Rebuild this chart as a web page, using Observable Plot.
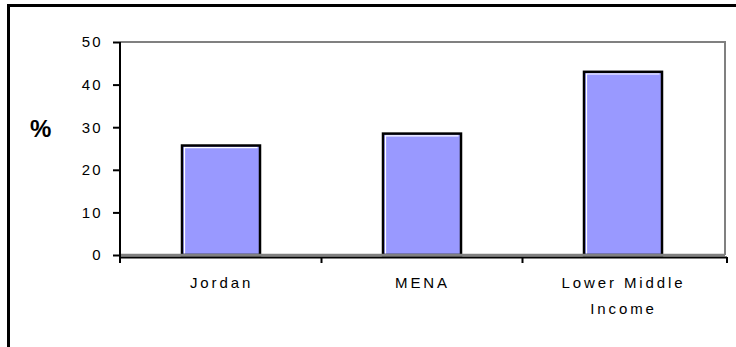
<!DOCTYPE html>
<html>
<head>
<meta charset="utf-8">
<script src="https://cdn.jsdelivr.net/npm/d3@7"></script>
<script src="https://cdn.jsdelivr.net/npm/@observablehq/plot@0.6"></script>
<style>
  html, body { margin: 0; padding: 0; background: #fff; }
  #wrap { position: relative; width: 736px; height: 347px; overflow: hidden; font-family: "Liberation Sans", Arial, sans-serif; }
  #frame { position: absolute; left: 7px; top: 4px; width: 800px; height: 400px; border-left: 3px solid #000; border-top: 3px solid #000; box-sizing: border-box; }
  #chart { position: absolute; left: 0; top: 0; }
  #pct { position: absolute; left: 30px; top: 117px; font-size: 24px; font-weight: bold; color: #000; line-height: 1; }
  g[aria-label="x-axis tick label"] text { letter-spacing: 2.9px; }
  g[aria-label="y-axis tick label"] text { letter-spacing: 2px; }
</style>
</head>
<body>
<div id="wrap">
  <div id="frame"></div>
  <div id="chart"></div>
  <div id="pct">%</div>
</div>
<script>
const categories = ["Jordan", "MENA", "Lower Middle Income"];
const tickLabels = ["Jordan", "MENA", "Lower Middle\nIncome"];
const values = [25.7, 28.5, 43.0];
const yTicks = [0, 10, 20, 30, 40, 50];

const data = categories.map((c, i) => ({name: c, value: values[i]}));
const labelOf = new Map(categories.map((c, i) => [c, tickLabels[i]]));

function decor(index, scales, vals, dims) {
  const {width, height, marginLeft, marginRight, marginTop, marginBottom} = dims;
  const l = marginLeft, r = width - marginRight, t = marginTop, b = height - marginBottom;
  const x = scales.x;
  const bw = x.bandwidth ? x.bandwidth() : 0;
  const g = d3.create("svg:g");
  g.append("path").attr("d", `M${l},${t}H${r}V${b}`).attr("fill", "none").attr("stroke", "#808080").attr("stroke-width", 2);
  const y0 = scales.y(0);
  g.append("line").attr("x1", l).attr("x2", r).attr("y1", y0).attr("y2", y0).attr("stroke", "#808080").attr("stroke-width", 2.5);
  g.append("line").attr("x1", l).attr("x2", r + 2).attr("y1", y0 + 2.5).attr("y2", y0 + 2.5).attr("stroke", "#000").attr("stroke-width", 2);
  g.append("line").attr("x1", l).attr("x2", l).attr("y1", t).attr("y2", y0 + 3.5).attr("stroke", "#000").attr("stroke-width", 2);
  const bounds = [l];
  for (let i = 0; i < categories.length - 1; i++) {
    bounds.push((x(categories[i]) + x(categories[i + 1])) / 2 + bw / 2);
  }
  bounds.push(r + 2);
  for (const bx of bounds) {
    g.append("line").attr("x1", bx).attr("x2", bx).attr("y1", y0 + 2).attr("y2", y0 + 8).attr("stroke", "#000").attr("stroke-width", 2);
  }
  return g.node();
}

// white highlight on the top and left inner edges of each bar
function highlight(index, scales, vals, dims) {
  const x = scales.x, y = scales.y;
  const bw = x.bandwidth ? x.bandwidth() : 0;
  const g = d3.create("svg:g");
  data.forEach(d => {
    const x1 = x(d.name) + 2.5, x2 = x(d.name) + bw - 2.5;
    const yt = y(d.value) + 2.2, yb = y(0) - 1.5;
    g.append("path").attr("d", `M${x1},${yb}V${yt}H${x2}`).attr("fill", "none").attr("stroke", "#fff").attr("stroke-width", 1.2);
  });
  return g.node();
}

const chart = Plot.plot({
  width: 736,
  height: 347,
  marginLeft: 120,
  marginRight: 11,
  marginTop: 42,
  marginBottom: 92,
  style: {fontFamily: "'Liberation Sans', Arial, sans-serif", fontSize: "15px", color: "#000", background: "transparent"},
  x: {domain: categories, paddingInner: 0.61, paddingOuter: 0.305, label: null},
  y: {domain: [0, 50], label: null},
  marks: [
    Plot.barY(data, {x: "name", y: "value", fill: "#9999ff", stroke: "#000", strokeWidth: 2.5}),
    highlight,
    decor,
    Plot.axisY({ticks: yTicks, tickSize: 7, tickPadding: 11, stroke: "#000", strokeWidth: 2, fontSize: 15, label: null}),
    Plot.axisX({tickSize: 0, tickPadding: 14, fontSize: 15, lineHeight: 1.73, tickFormat: d => labelOf.get(d), label: null})
  ]
});
document.getElementById("chart").appendChild(chart);
</script>
</body>
</html>
